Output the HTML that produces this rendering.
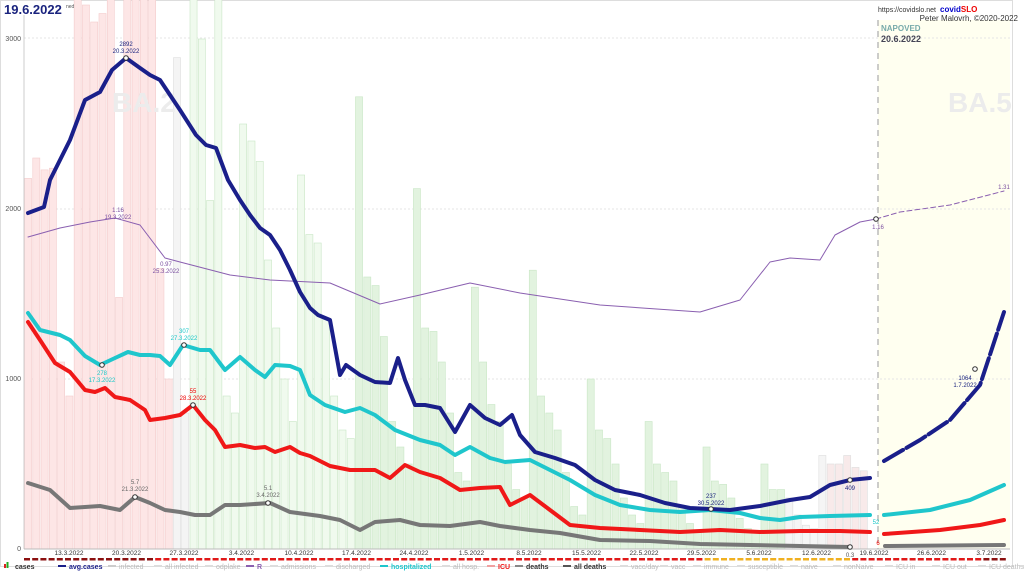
<!DOCTYPE html>
<html><head><meta charset="utf-8"><style>
html,body{margin:0;padding:0;background:#fff;}
svg{display:block;font-family:"Liberation Sans",sans-serif;}
</style></head><body>
<svg id="s" width="1024" height="576" viewBox="0 0 1024 576" xmlns="http://www.w3.org/2000/svg">
<rect x="0" y="0" width="1024" height="576" fill="#fff"/>
<rect x="0.5" y="0.5" width="1012" height="566" fill="none" stroke="#ddd"/>
<rect x="878" y="20" width="132" height="529" fill="#fffff0"/>
<g stroke="#e6e6e6" stroke-dasharray="2,2" stroke-width="1">
<line x1="24" y1="38" x2="1010" y2="38"/><line x1="24" y1="209" x2="1010" y2="209"/><line x1="24" y1="379" x2="1010" y2="379"/>
</g>
<g id="bars"></g>
<text x="112" y="112" font-size="28" font-weight="bold" fill="#ececec">BA.2</text>
<text x="948" y="112" font-size="28" font-weight="bold" fill="#ececec">BA.5</text>
<line x1="24" y1="15" x2="24" y2="549" stroke="#ccc"/>
<line x1="24" y1="549" x2="1010" y2="549" stroke="#bbb"/>
<line x1="878" y1="20" x2="878" y2="549" stroke="#bbb" stroke-width="1.5" stroke-dasharray="6,5"/>
<g font-size="7" fill="#555" text-anchor="end">
<text x="21" y="41">3000</text><text x="21" y="211">2000</text><text x="21" y="381">1000</text><text x="21" y="551">0</text>
</g>
<g id="lines"></g>
<text x="4" y="14" font-size="13" font-weight="bold" fill="#1a237e">19.6.2022</text>
<text x="66" y="8" font-size="5" fill="#555">ned</text>
<text x="936" y="12" font-size="7" fill="#333" text-anchor="end">https://covidslo.net</text>
<text x="940" y="12" font-size="8" font-weight="bold" fill="#0000cc">covid<tspan fill="#e00">SLO</tspan></text>
<text x="1018" y="21" font-size="8" fill="#333" text-anchor="end">Peter Malovrh, ©2020-2022</text>
<text x="881" y="31" font-size="8" font-weight="bold" fill="#7aa">NAPOVED</text>
<text x="881" y="42" font-size="9" font-weight="bold" fill="#445">20.6.2022</text>
<g font-size="6" text-anchor="middle">
<text x="126" y="46" fill="#1a237e">2892</text><text x="126" y="53" fill="#1a237e">20.3.2022</text>
<text x="118" y="212" fill="#7b4fa0">1.16</text><text x="118" y="219" fill="#7b4fa0">19.3.2022</text>
<text x="166" y="266" fill="#7b4fa0">0.97</text><text x="166" y="273" fill="#7b4fa0">25.3.2022</text>
<text x="878" y="229" fill="#7b4fa0">1.16</text>
<text x="1004" y="189" fill="#7b4fa0">1.31</text>
<text x="184" y="333" fill="#18c8c8">307</text><text x="184" y="340" fill="#18c8c8">27.3.2022</text>
<text x="102" y="375" fill="#18c8c8">278</text><text x="102" y="382" fill="#18c8c8">17.3.2022</text>
<text x="193" y="393" fill="#e00">55</text><text x="193" y="400" fill="#e00">28.3.2022</text>
<text x="135" y="484" fill="#666">5.7</text><text x="135" y="491" fill="#666">21.3.2022</text>
<text x="268" y="490" fill="#666">5.1</text><text x="268" y="497" fill="#666">3.4.2022</text>
<text x="711" y="498" fill="#1a237e">237</text><text x="711" y="505" fill="#1a237e">30.5.2022</text>
<text x="850" y="490" fill="#1a237e">409</text>
<text x="876" y="524" fill="#18c8c8">52</text>
<text x="878" y="545" fill="#e00">6</text>
<text x="965" y="380" fill="#1a237e">1064</text><text x="965" y="387" fill="#1a237e">1.7.2022</text>
<text x="850" y="557" fill="#555">0.3</text>
</g>
<g id="axis" font-size="6.5" fill="#333" text-anchor="middle"></g>
<g id="dash"></g>
<g font-size="7" fill="#bbb" id="leg"></g>
</svg>
<script>
const NS="http://www.w3.org/2000/svg";
function el(p,t,a,txt){const e=document.createElementNS(NS,t);for(const k in a)e.setAttribute(k,a[k]);if(txt!==undefined)e.textContent=txt;document.getElementById(p).appendChild(e);return e;}
const vals=[2180,2300,2230,2240,1100,900,3300,3200,3100,3150,3300,1480,3500,3500,3500,3500,1650,1000,2890,800,3300,3000,2050,3300,900,800,2500,2400,2280,1700,1300,1000,750,2200,1850,1800,1350,900,700,650,2660,1600,1550,1250,750,600,500,2120,1300,1280,1100,800,450,400,1540,1100,850,750,500,350,300,1640,900,800,700,450,250,200,1000,700,650,500,300,200,150,750,500,450,400,250,150,100,600,400,380,300,180,120,100,500,350,350,300,200,140,120,550,500,500,550,480,460];
const n=vals.length, x0=24, w=(868-24)/n;
vals.forEach((v,i)=>{const h=Math.min(v,3600)*0.17;const x=x0+i*w;
let c,s;if(i<18){c="#fde6e6";s="#f3cccc";}else if(i<20){c="#f4f4f4";s="#ddd";}else if(i<92){c=i<40?"#f0faee":"#e2f3df";s="#c9e6c5";}else{c=i>96?"#f8eaea":"#f5f5f5";s="#ddd";}
el("bars","rect",{x:x+0.5,y:549-h,width:w-1.2,height:h,fill:c,stroke:s,"stroke-width":0.6});});
function pl(pts,col,wd,dash){el("lines","polyline",{points:pts.map(p=>p.join(",")).join(" "),fill:"none",stroke:col,"stroke-width":wd,"stroke-linejoin":"round","stroke-linecap":"round","stroke-dasharray":dash||"none"});}
pl([[28,237],[60,228],[90,222],[115,218],[140,225],[165,258],[180,262],[230,275],[270,280],[330,283],[380,304],[420,295],[470,283],[520,293],[600,305],[700,312],[740,300],[770,262],[790,258],[820,260],[835,235],[860,222],[876,219]],"#8a5fb0",1);
pl([[876,219],[900,212],[950,205],[1004,191]],"#8a5fb0",1,"5,3");
pl([[28,483],[50,490],[70,508],[100,506],[120,510],[135,497],[150,503],[165,510],[180,512],[195,515],[210,515],[225,505],[240,505],[270,503],[290,512],[320,516],[340,520],[360,530],[375,522],[400,520],[420,525],[450,526],[480,522],[500,526],[530,530],[560,533],[600,540],[650,541],[700,544],[750,545],[800,546],[850,547]],"#777",4);
pl([[885,546],[1004,545]],"#777",4);
pl([[28,322],[40,340],[55,363],[70,372],[85,390],[95,392],[105,388],[115,397],[130,400],[145,410],[150,420],[165,418],[180,415],[193,405],[205,420],[215,430],[225,447],[240,445],[255,448],[265,447],[275,452],[290,447],[300,453],[310,456],[330,466],[350,470],[375,470],[390,478],[405,465],[420,472],[440,478],[460,490],[480,488],[500,487],[510,505],[530,495],[550,510],[570,525],[600,528],[640,530],[680,532],[720,530],[760,532],[800,531],[840,531],[870,532]],"#f01818",4);
pl([[884,534],[940,530],[980,525],[1004,520]],"#f01818",4);
pl([[28,313],[40,330],[60,335],[70,340],[85,356],[100,365],[115,358],[128,352],[140,355],[150,355],[160,356],[170,365],[183,345],[200,350],[210,350],[225,370],[240,357],[255,370],[265,377],[275,365],[290,366],[300,370],[310,395],[325,405],[345,412],[360,408],[375,415],[395,430],[420,440],[440,445],[455,455],[470,447],[490,458],[505,462],[530,460],[550,470],[570,480],[595,495],[620,505],[650,510],[680,512],[710,510],[740,513],[760,518],[780,520],[800,517],[830,516],[870,515]],"#1fc6cc",4);
pl([[884,515],[930,510],[970,500],[1004,485]],"#1fc6cc",4);
pl([[28,213],[44,207],[50,180],[70,140],[85,100],[100,92],[112,70],[126,58],[140,68],[150,75],[160,80],[170,95],[180,110],[196,135],[206,145],[216,148],[228,180],[240,200],[250,215],[260,228],[270,235],[280,250],[290,270],[300,292],[310,308],[318,315],[330,320],[340,375],[346,365],[360,375],[375,382],[390,383],[398,358],[405,380],[415,405],[425,405],[440,408],[455,432],[470,405],[485,418],[500,425],[512,415],[520,435],[535,452],[555,458],[575,465],[595,480],[615,490],[640,495],[665,503],[690,508],[710,509],[730,510],[760,506],[790,500],[810,497],[830,485],[850,480],[870,478]],"#1a1f8a",4);
pl([[884,461],[920,440],[950,420],[980,385],[1004,312]],"#1a1f8a",4,"22,4");
[[126,58],[102,365],[184,345],[193,405],[135,497],[268,503],[711,509],[850,480],[975,369],[850,547],[876,219]].forEach(p=>el("lines","circle",{cx:p[0],cy:p[1],r:2.3,fill:"#fff",stroke:"#333","stroke-width":1}));
["13.3.2022","20.3.2022","27.3.2022","3.4.2022","10.4.2022","17.4.2022","24.4.2022","1.5.2022","8.5.2022","15.5.2022","22.5.2022","29.5.2022","5.6.2022","12.6.2022","19.6.2022","26.6.2022","3.7.2022"].forEach((t,i)=>{el("axis","text",{x:69+i*57.5,y:555},t);});
for(let x=24;x<1008;x+=8.2){let c="#8b1010";if(x>700&&x<850)c="#f0b020";else if(x>150&&x<=700)c="#e01818";else if(x>=850&&x<980)c="#e01818";el("dash","rect",{x:x,y:558,width:6,height:2.5,fill:c});}
const leg=[["cases","#333",null],["avg.cases","#1a1f8a","#1a1f8a"],["infected","#bbb","#ccc"],["all infected","#bbb","#ddd"],["odplake","#bbb","#ddd"],["R","#8a5fb0","#8a5fb0"],["admissions","#bbb","#ddd"],["discharged","#bbb","#ddd"],["hospitalized","#1fc6cc","#1fc6cc"],["all hosp.","#bbb","#ddd"],["ICU","#f01818","#f0a0a0"],["deaths","#333","#888"],["all deaths","#333","#555"],["vacc/day","#bbb","#ddd"],["vacc","#bbb","#ddd"],["immune","#bbb","#ddd"],["susceptible","#bbb","#ddd"],["naive","#bbb","#ddd"],["nonNaive","#bbb","#ddd"],["ICU in","#bbb","#ddd"],["ICU out","#bbb","#ddd"],["ICU deaths","#bbb","#ddd"],["all ICU","#bbb","#ddd"]];
leg.forEach((l,i)=>{const x=[4,58,108,154,205,246,270,325,380,442,487,515,563,620,660,693,737,790,833,885,932,978,1020][i];
if(l[2]) el("leg","rect",{x:x,y:565,width:8,height:2,fill:l[2]}); else {el("leg","rect",{x:x,y:564,width:2,height:4,fill:"#d22"});el("leg","rect",{x:x+2.5,y:562,width:2,height:6,fill:"#2a2"});}
el("leg","text",{x:x+11,y:569,fill:l[1],"font-weight":(l[1]!="#bbb")?"bold":"normal"},l[0]);});
</script>
</body></html>
